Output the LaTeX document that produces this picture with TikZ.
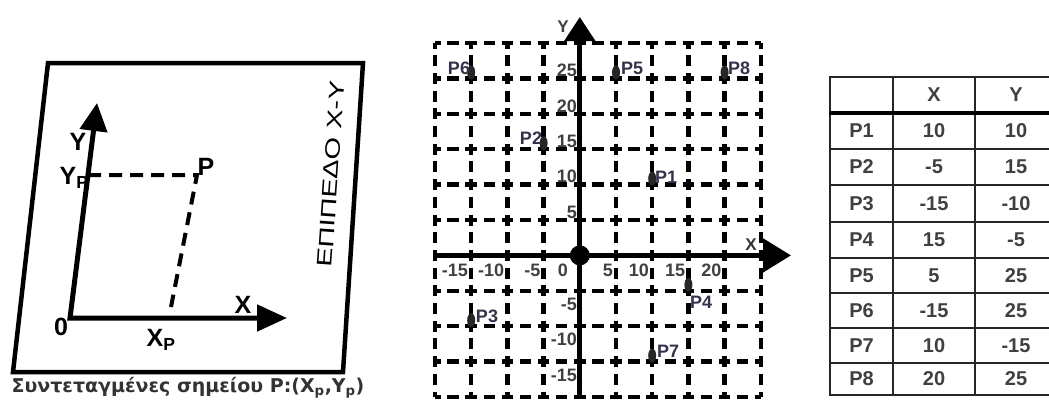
\documentclass[tikz,border=0pt]{standalone}
\usepackage{fontspec}
\setmainfont{Liberation Sans}
\newfontfamily\capfont{DejaVu Sans}
\usetikzlibrary{arrows.meta}
\newcommand{\gridpt}[1]{\fill[black!85] (#1) ++(0,-6) ellipse (4 and 7)}

\begin{document}
\begin{tikzpicture}[x=1pt,y=-1pt,
  axis/.style={line width=5pt},
  lbl/.style={font=\fontsize{25}{25}\selectfont\bfseries,inner sep=0pt},
  dashln/.style={line width=4pt,dash pattern=on 13pt off 8pt},
  gridv/.style={line width=4.5pt,dash pattern=on 11pt off 6.7pt,dash phase=5.5pt},
  gridh/.style={line width=4.5pt,dash pattern=on 11.5pt off 6.6pt,dash phase=5.75pt},
  tick/.style={font=\fontsize{18}{18}\selectfont\bfseries,text=black!75,inner sep=0pt},
  plbl/.style={font=\fontsize{18}{18}\selectfont\bfseries,text={rgb,255:red,50;green,50;blue,75},inner sep=0pt},
  tline/.style={line width=2pt,black!85},
  cell/.style={font=\fontsize{20}{20}\selectfont\bfseries,text=black!75}]
\useasboundingbox (0,0) rectangle (1049,405);
% plane
\coordinate (tl) at (48,63);
\coordinate (tr) at (363,63);
\coordinate (br) at (343,372);
\coordinate (bl) at (13,372);
\draw[line width=4.5pt] (tl) -- (tr) -- (br) -- (bl) -- cycle;
\coordinate (o) at (70,318);
\coordinate (ytip) at (97,103);
\coordinate (xtip) at (287,318);
\draw[axis,{Triangle[length=28pt,width=27pt]}-{Triangle[length=30pt,width=26pt]}] (ytip) -- (o) -- (xtip);
\coordinate (yp) at (88,175);
\coordinate (p) at (197,175);
\coordinate (xp) at (171,307);
\draw[dashln] (yp) -- (p) -- (xp);
\node[lbl] (ylab) at (78,142) {Y};
\node[lbl] (yplab) at (74,178) {Y\textsubscript{P}};
\node[lbl] (plab) at (206,167) {P};
\node[lbl] (xlab) at (243,305) {X};
\node[lbl] (olab) at (61,327) {0};
\node[lbl] (xplab) at (161,340) {X\textsubscript{P}};
\node[rotate=86,font=\fontsize{21}{21}\selectfont,inner sep=0pt] (plane) at (331,174)
  {\scalebox{1.38}[1]{ΕΠΙΠΕΔΟ Χ-Υ}};
\node[font=\capfont\fontsize{19}{19}\selectfont\bfseries,text=black!80,inner sep=0pt] (caption) at (188,388)
  {Συντεταγμένες σημείου P:(X\textsubscript{p},Y\textsubscript{p})};
%
% grid
\foreach \i in {0,...,9}
  \draw[gridv] ({435+36.2*\i},43) -- ({435+36.2*\i},397);
\foreach \j in {0,...,10}
  \draw[gridh] (435,{43+35.4*\j}) -- (761,{43+35.4*\j});
\node[font=\fontsize{17}{17}\selectfont\bfseries,text=black!75] (ylabel) at (563,27) {Y};
\node[font=\fontsize{17}{17}\selectfont\bfseries,text=black!80] (xlabel) at (751,245) {X};
\coordinate (c) at (579.8,255.4);
\coordinate (cytip) at (579.8,17);
\coordinate (cybot) at (579.8,399);
\coordinate (cxl) at (435,255.4);
\coordinate (cxtip) at (791,255.4);
\draw[axis,-{Triangle[length=24pt,width=30pt]}] (cybot) -- (cytip);
\draw[axis,-{Triangle[length=28pt,width=33pt]}] (cxl) -- (cxtip);
\fill (c) circle (10);
\foreach \v in {-15,-10,-5,5,10,15,20}
  \node[tick,anchor=east] at ({576.8+7.24*\v},270) {\v};
\node[tick,anchor=east] (zero) at (568,270) {0};
\foreach \v in {5,10,...,25}
  \node[tick,anchor=east] at (577,{247.4-7.08*\v}) {\v};
\foreach \v in {-5,-10,-15}
  \node[tick,anchor=east] at (577,{268.9-7.08*\v}) {\v};
%
\foreach \n/\px/\py/\lx/\ly in {1/10/10/666/177, 2/-5/15/531/138, 3/-15/-10/487/316,
    4/15/-5/701/302, 5/5/25/632/68, 6/-15/25/459/68, 7/10/-15/668/351, 8/20/25/739/68}{
  \coordinate (P\n) at ({579.8+7.24*\px},{255.4-7.08*\py});
  \gridpt{P\n};
  \node[plbl] (p\n) at (\lx,\ly) {P\n};
}
%
% table
\foreach \x in {830,893,975}
  \draw[tline] (\x,77) -- (\x,395);
\foreach \y in {77,149,185,222,258,293,328,363,395}
  \draw[tline] (829,\y) -- (1052,\y);
\draw[line width=4.5pt] (829,113) -- (1052,113);
\node[cell] (hx) at (934,95) {X};
\node[cell] (hy) at (1016,95) {Y};
\foreach \n/\xv/\yv/\top/\bot in {1/10/10/113/149, 2/-5/15/149/185, 3/-15/-10/185/222,
    4/15/-5/222/258, 5/5/25/258/293, 6/-15/25/293/328, 7/10/-15/328/363, 8/20/25/363/395}{
  \node[cell] (r\n) at (861.5,{(\top+\bot)/2}) {P\n};
  \node[cell] (rx\n) at (934,{(\top+\bot)/2}) {\xv};
  \node[cell] (ry\n) at (1016,{(\top+\bot)/2}) {\yv};
}
\end{tikzpicture}
\end{document}
